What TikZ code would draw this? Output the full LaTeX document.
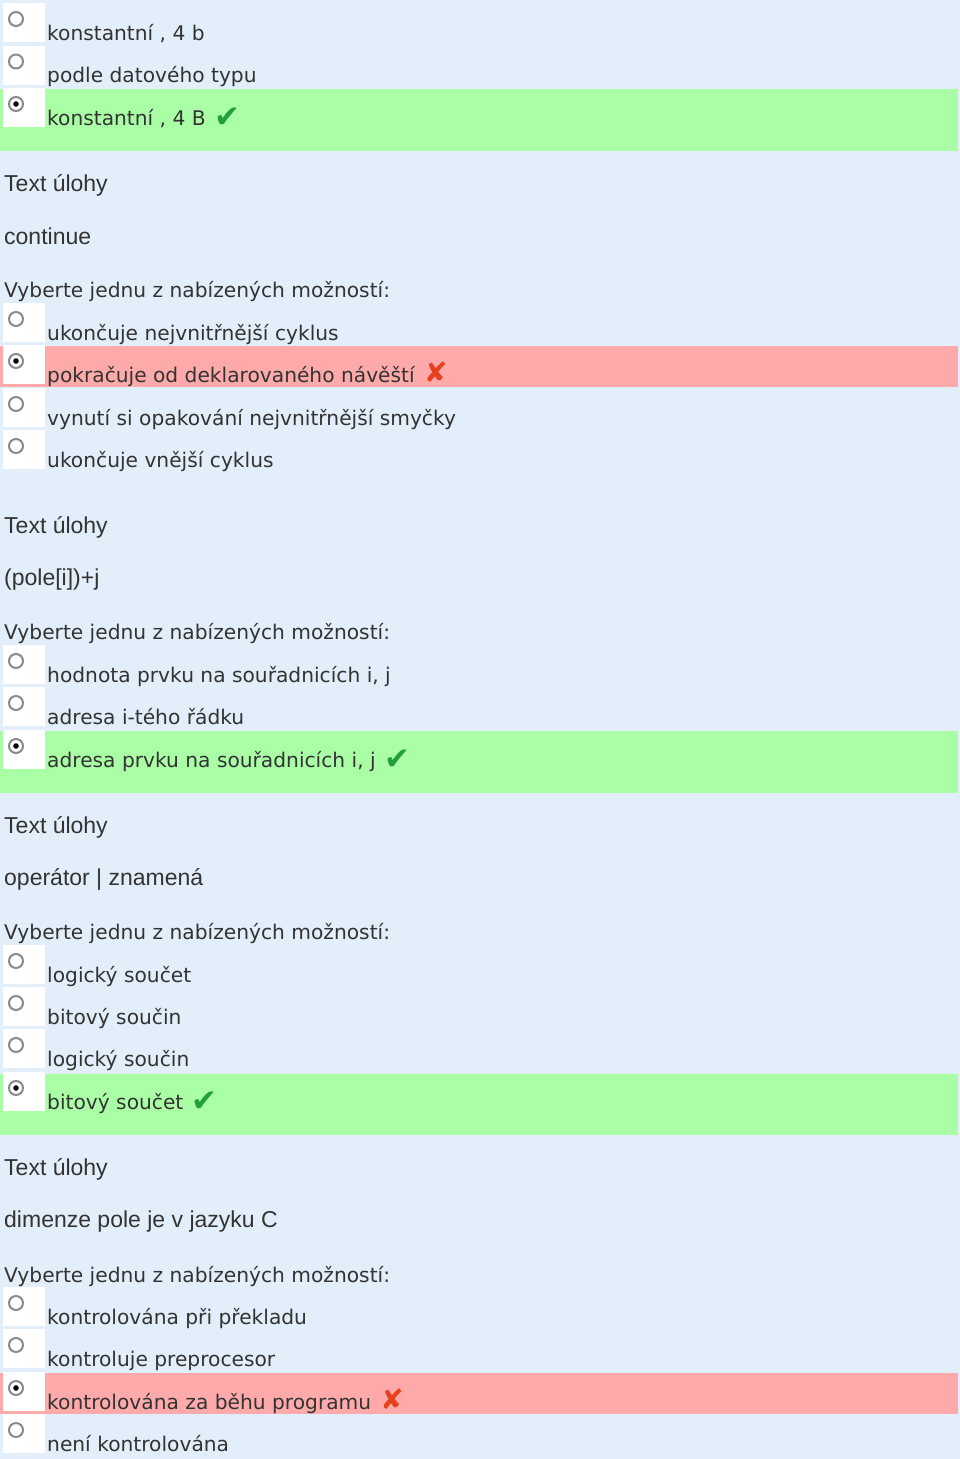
\documentclass[tikz,border=0pt]{standalone}
\usepackage{fontspec}
\setmainfont{DejaVu Sans}
\newfontfamily\qfont{Liberation Sans}
\usetikzlibrary{positioning}

\definecolor{pagebg}{HTML}{E2EEF9}
\definecolor{okbg}{HTML}{AAFFA6}
\definecolor{badbg}{HTML}{FFAAAA}
\definecolor{txt}{HTML}{333333}
\definecolor{okgreen}{HTML}{22A03C}
\definecolor{badred}{HTML}{E8401C}
\definecolor{ring}{HTML}{8A8A8A}

\tikzset{
  opt/.style={anchor=base west, inner sep=0pt, text=txt, font=\fontsize{20.2}{24}\selectfont},
  qtext/.style={anchor=base west, inner sep=0pt, text=txt, font=\qfont\fontsize{23}{27}\selectfont},
  okmark/.style={anchor=base west, inner sep=0pt, text=okgreen, font=\fontsize{31}{34}\selectfont},
  badmark/.style={anchor=base west, inner sep=0pt, text=badred, font=\fontsize{28}{30}\selectfont},
}

% prepinac (radio) u odpovedi, #1 = uctaria textu
\newcommand{\radiobtn}[1]{%
  \fill[white] (3,#1-37) rectangle (45,#1+2);
  \draw[ring, line width=2pt] (16,#1-21) circle (7);
}
\newcommand{\radiosel}[1]{%
  \radiobtn{#1}
  \fill[black] (16,#1-21) circle (2.8);
}

\begin{document}
\begin{tikzpicture}[x=1pt,y=-1pt]
  % pozadi
  \fill[pagebg] (0,0) rectangle (960,1459);
  \useasboundingbox (0,0) rectangle (960,1459);

  % uloha 1 (konec)
  \fill[okbg] (0,89) rectangle (958,151);
  \radiobtn{40} \radiobtn{82.5} \radiosel{125}
  \node[opt] (o1a) at (47,40) {konstantní , 4 b};
  \node[opt] (o1b) at (47,82.5) {podle datového typu};
  \node[opt] (o1c) at (47,125) {konstantní , 4 B};
  \node[okmark] (k1) at ([xshift=8pt,yshift=-2pt]o1c.base east) {✔};

  % uloha 2
  \node[qtext] (t2) at (4,191) {Text úlohy};
  \node[qtext] (q2) at (4,244) {continue};
  \node[opt] (v2) at (4,297) {Vyberte jednu z nabízených možností:};
  \fill[badbg] (0,346) rectangle (958,387);
  \radiobtn{340} \radiosel{382} \radiobtn{425} \radiobtn{467}
  \node[opt] (o2a) at (47,340) {ukončuje nejvnitřnější cyklus};
  \node[opt] (o2b) at (47,382) {pokračuje od deklarovaného návěští};
  \node[opt] (o2c) at (47,425) {vynutí si opakování nejvnitřnější smyčky};
  \node[opt] (o2d) at (47,467) {ukončuje vnější cyklus};
  \node[badmark] (k2) at ([xshift=9pt]o2b.base east) {✘};

  % uloha 3
  \node[qtext] (t3) at (4,533) {Text úlohy};
  \node[qtext] (q3) at (4,585) {(pole[i])+j};
  \node[opt] (v3) at (4,639) {Vyberte jednu z nabízených možností:};
  \fill[okbg] (0,731) rectangle (958,793);
  \radiobtn{682} \radiobtn{724} \radiosel{767}
  \node[opt] (o3a) at (47,682) {hodnota prvku na souřadnicích i, j};
  \node[opt] (o3b) at (47,724) {adresa i-tého řádku};
  \node[opt] (o3c) at (47,767) {adresa prvku na souřadnicích i, j};
  \node[okmark] (k3) at ([xshift=8pt,yshift=-2pt]o3c.base east) {✔};

  % uloha 4
  \node[qtext] (t4) at (4,833) {Text úlohy};
  \node[qtext] (q4) at (4,885) {operátor | znamená};
  \node[opt] (v4) at (4,939) {Vyberte jednu z nabízených možností:};
  \fill[okbg] (0,1074) rectangle (958,1135);
  \radiobtn{982} \radiobtn{1024} \radiobtn{1066} \radiosel{1109}
  \node[opt] (o4a) at (47,982) {logický součet};
  \node[opt] (o4b) at (47,1024) {bitový součin};
  \node[opt] (o4c) at (47,1066) {logický součin};
  \node[opt] (o4d) at (47,1109) {bitový součet};
  \node[okmark] (k4) at ([xshift=8pt,yshift=-2pt]o4d.base east) {✔};

  % uloha 5
  \node[qtext] (t5) at (4,1175) {Text úlohy};
  \node[qtext] (q5) at (4,1227) {dimenze pole je v jazyku C};
  \node[opt] (v5) at (4,1282) {Vyberte jednu z nabízených možností:};
  \fill[badbg] (0,1373) rectangle (958,1414);
  \radiobtn{1324} \radiobtn{1366} \radiosel{1409} \radiobtn{1451}
  \node[opt] (o5a) at (47,1324) {kontrolována při překladu};
  \node[opt] (o5b) at (47,1366) {kontroluje preprocesor};
  \node[opt] (o5c) at (47,1409) {kontrolována za běhu programu};
  \node[opt] (o5d) at (47,1451) {není kontrolována};
  \node[badmark] (k5) at ([xshift=9pt]o5c.base east) {✘};
\end{tikzpicture}
\end{document}
